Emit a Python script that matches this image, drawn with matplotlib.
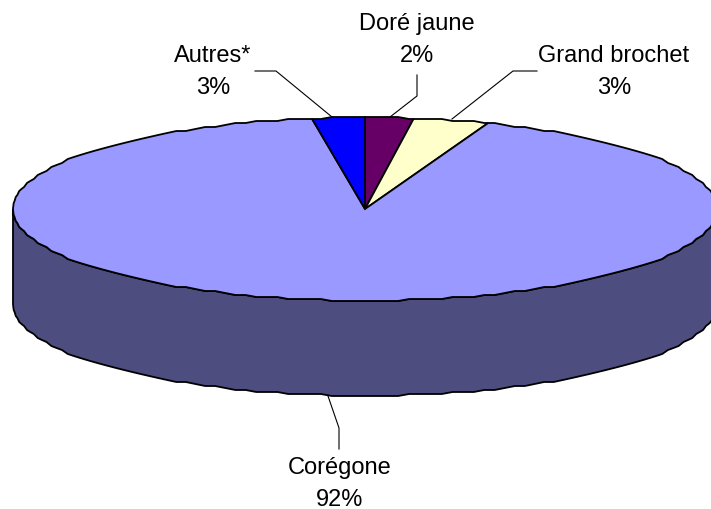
import numpy as np
import matplotlib
matplotlib.use("Agg")
import matplotlib.pyplot as plt
from matplotlib.patches import Polygon

categories = ["Doré jaune", "Grand brochet", "Corégone", "Autres*"]
values = [2.2, 3.49, 91.91, 2.4]
labels = ["2%", "3%", "92%", "3%"]
top_colors = ["#660066", "#FFFFCC", "#9999FF", "#0000FF"]
side_color = "#4D4D80"

CX, CY, RX, RY, DEPTH = 365, 210, 352, 91.5, 95
GRID = 2.0              # vertex grid that gives the rim its slightly stepped outline
STEP = 2 * np.pi / 200  # angular spacing of rim vertices

plt.rcParams["font.family"] = ["Liberation Sans", "DejaVu Sans"]
fig = plt.figure(figsize=(7.11, 5.10), dpi=100)
ax = fig.add_axes([0, 0, 1, 1])
ax.set_xlim(0, 711)
ax.set_ylim(510, 0)
ax.axis("off")


def rim(t, dy=0.0):
    x = CX + RX * np.sin(t)
    y = CY - RY * np.cos(t)
    y = CY + np.round((y - CY) / GRID) * GRID
    return np.column_stack([x, y + dy])


def samples(a, b):
    k = np.arange(np.ceil(a / STEP), np.floor(b / STEP) + 1) * STEP
    return np.unique(np.concatenate([[a], k, [b]]))


fractions = np.array(values) / sum(values)
edges = np.concatenate([[0], np.cumsum(fractions)]) * 2 * np.pi

# side wall: the front half of the rim, swept down by the depth
t = samples(np.pi / 2, 3 * np.pi / 2)
ax.add_patch(Polygon(np.vstack([rim(t), rim(t[::-1], DEPTH)]), closed=True,
                     facecolor=side_color, edgecolor="black", lw=1.3, zorder=1))

# top face
for a, b, color in zip(edges[:-1], edges[1:], top_colors):
    ax.add_patch(Polygon(np.vstack([[CX, CY], rim(samples(a, b))]), closed=True,
                         facecolor=color, edgecolor="black", lw=1.3, zorder=2))

text_kw = dict(fontsize=17, ha="center", va="center", color="black", linespacing=1.0)
line_gap = 32
positions = [(417, 24), (614, 56), (340, 468), (213, 56)]
for name, pct, (x, y) in zip(categories, labels, positions):
    ax.text(x, y, name, **text_kw)
    ax.text(x, y + line_gap, pct, **text_kw)

leader_kw = dict(color="black", lw=0.8, zorder=3)
ax.plot([417, 417, 390], [76, 97, 118], **leader_kw)
ax.plot([537, 513, 452], [72, 72, 120], **leader_kw)
ax.plot([328, 339, 339], [397, 429, 450], **leader_kw)
ax.plot([255, 276, 332], [72, 72, 118], **leader_kw)

fig.savefig("out.png", dpi=100, facecolor="white")
